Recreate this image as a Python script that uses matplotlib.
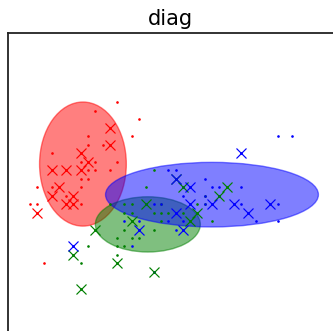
import matplotlib
matplotlib.use("Agg")
import matplotlib.pyplot as plt
from matplotlib.patches import Ellipse

# Sepal length / sepal width for the three iris classes (all samples drawn as dots)
setosa_x = [5.1, 4.9, 4.7, 4.6, 5.0, 5.4, 4.6, 5.0, 4.4, 4.9, 5.4, 4.8, 4.8, 4.3,
            5.8, 5.7, 5.1, 5.4, 5.1, 4.6, 5.1, 5.2, 5.2, 4.8, 5.2, 5.5, 5.0, 5.5,
            4.4, 5.1, 5.0, 4.5, 4.4, 5.3, 5.0, 5.0, 4.6]
setosa_y = [3.5, 3.0, 3.2, 3.1, 3.6, 3.9, 3.4, 3.4, 2.9, 3.1, 3.7, 3.4, 3.0, 3.0,
            4.0, 3.8, 3.8, 3.4, 3.7, 3.6, 3.3, 3.5, 3.4, 3.1, 4.1, 4.2, 3.2, 3.5,
            3.0, 3.4, 3.5, 2.3, 3.2, 3.7, 3.3, 3.0, 3.2]

versicolor_x = [7.0, 6.4, 6.9, 5.5, 6.5, 5.7, 6.3, 4.9, 6.6, 5.2, 5.0, 5.9, 6.0,
                6.1, 5.6, 6.7, 5.6, 5.8, 5.6, 5.9, 6.1, 6.4, 6.6, 6.8, 6.7, 6.0,
                5.7, 5.5, 6.0, 5.4, 6.0, 5.5, 5.5, 6.1, 5.8, 5.0, 5.6, 5.7, 5.7,
                6.2, 5.1]
versicolor_y = [3.2, 3.2, 3.1, 2.3, 2.8, 2.8, 3.3, 2.4, 2.9, 2.7, 2.0, 3.0, 2.2,
                2.9, 2.9, 3.1, 3.0, 2.7, 2.5, 3.2, 2.8, 2.9, 3.0, 2.8, 3.0, 2.9,
                2.6, 2.4, 2.7, 3.0, 3.4, 2.5, 2.6, 3.0, 2.6, 2.3, 2.7, 3.0, 2.9,
                2.9, 2.5]

virginica_x = [6.3, 5.8, 7.1, 6.3, 6.5, 7.6, 4.9, 7.3, 7.2, 6.5, 6.4, 6.8, 5.7,
               5.8, 6.4, 7.7, 6.0, 6.9, 5.6, 7.7, 6.3, 6.7, 7.2, 6.2, 6.1, 6.4,
               7.2, 7.4, 7.9, 7.7, 6.3, 6.4, 6.0, 6.9, 6.7, 6.8, 6.7, 6.2, 5.9]
virginica_y = [3.3, 2.7, 3.0, 2.9, 3.0, 3.0, 2.5, 2.9, 3.6, 3.2, 2.7, 3.0, 2.5,
               2.8, 3.2, 3.8, 2.2, 3.2, 2.8, 2.8, 2.7, 3.3, 3.2, 2.8, 3.0, 2.8,
               3.0, 2.8, 3.8, 3.0, 3.4, 3.1, 3.0, 3.1, 3.1, 3.2, 3.0, 3.4, 3.0]

# Held-out test samples (drawn as crosses)
setosa_test_x = [5.1, 4.9, 4.7, 4.6, 5.0, 5.4, 4.6, 5.0, 4.4, 4.9, 5.4, 4.8, 4.8]
setosa_test_y = [3.5, 3.0, 3.2, 3.1, 3.6, 3.9, 3.4, 3.4, 2.9, 3.1, 3.7, 3.4, 3.0]
versicolor_test_x = [7.0, 6.4, 6.9, 5.5, 6.5, 5.7, 6.3, 4.9, 6.6, 5.2, 5.0, 5.9, 6.0]
versicolor_test_y = [3.2, 3.2, 3.1, 2.3, 2.8, 2.8, 3.3, 2.4, 2.9, 2.7, 2.0, 3.0, 2.2]
virginica_test_x = [6.3, 5.8, 7.1, 6.3, 6.5, 7.6, 4.9, 7.3, 7.2, 6.5, 6.4, 6.8]
virginica_test_y = [3.3, 2.7, 3.0, 2.9, 3.0, 3.0, 2.5, 2.9, 3.6, 3.2, 2.7, 3.0]

# Diagonal-covariance Gaussian components: centre and full axis lengths
comp_center_x = [5.03, 5.92, 6.80]
comp_center_y = [3.47, 2.76, 3.11]
comp_width = [1.19, 1.44, 2.92]
comp_height = [1.46, 0.65, 0.76]
colors = ["r", "g", "b"]

W, H = 333, 331
fig = plt.figure(figsize=(W / 100, H / 100), dpi=100)
left_px, right_px, top_px, bottom_px = 7.5, 334.0, 33.0, 332.0
ax = fig.add_axes([left_px / W, (H - bottom_px) / H,
                   (right_px - left_px) / W, (bottom_px - top_px) / H])

for cx, cy, w, h, c in zip(comp_center_x, comp_center_y, comp_width, comp_height, colors):
    ell = Ellipse((cx, cy), w, h, angle=0, color=c)
    ell.set_alpha(0.5)
    ax.add_patch(ell)

all_sets = [(setosa_x, setosa_y), (versicolor_x, versicolor_y), (virginica_x, virginica_y)]
test_sets = [(setosa_test_x, setosa_test_y), (versicolor_test_x, versicolor_test_y),
             (virginica_test_x, virginica_test_y)]

for (x, y), c in zip(all_sets, colors):
    ax.scatter(x, y, s=0.8, color=c)
for (x, y), c in zip(test_sets, colors):
    ax.plot(x, y, "x", color=c, markersize=6.5, markeredgewidth=0.85)

ax.set_xlim(3.995, 8.474)
ax.set_ylim(1.494, 5.012)
ax.set_xticks([])
ax.set_yticks([])
for sp in ax.spines.values():
    sp.set_linewidth(1.3)
    sp.set_color("#222222")
ax.set_title("diag", fontsize=15)

fig.savefig("out.png", dpi=100)
